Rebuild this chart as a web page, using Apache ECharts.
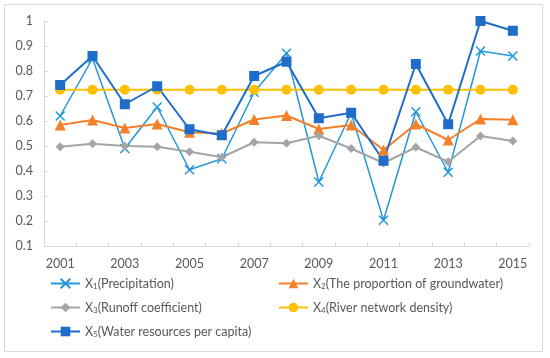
<!DOCTYPE html>
<html><head><meta charset="utf-8">
<script src="https://cdn.jsdelivr.net/npm/echarts@6/dist/echarts.min.js"></script>
<style>html,body{margin:0;padding:0;background:#fff}#c{width:550px;height:358px}</style>
</head><body><div id="c"></div>
<script>
const years = ['2001','2002','2003','2004','2005','2006','2007','2008','2009','2010','2011','2012','2013','2014','2015'];
const x1Precipitation = [0.62,0.85,0.49,0.656,0.405,0.449,0.715,0.871,0.356,0.632,0.203,0.637,0.395,0.88,0.86];
const x2Groundwater = [0.584,0.604,0.572,0.588,0.555,0.55,0.606,0.622,0.568,0.584,0.484,0.588,0.524,0.608,0.605];
const x3Runoff = [0.497,0.509,0.5,0.497,0.477,0.455,0.515,0.511,0.541,0.49,0.432,0.495,0.437,0.54,0.52];
const x4RiverDensity = [0.725,0.725,0.725,0.725,0.725,0.725,0.725,0.725,0.725,0.725,0.725,0.725,0.725,0.725,0.725];
const x5WaterPerCapita = [0.744,0.86,0.667,0.739,0.567,0.543,0.78,0.837,0.611,0.633,0.441,0.828,0.587,1.0,0.961];
const seriesNames = ['X1(Precipitation)','X2(The proportion of groundwater)','X3(Runoff coefficient)','X4(River network density)','X5(Water resources per capita)'];

const FONT = 'Lato';
const FS = 11.5;
const TXT = '#595959';
const chart = echarts.init(document.getElementById('c'), null, {renderer:'canvas'});
function legendFmt(name){
  const m = name.match(/^X(\d)(.*)$/);
  return 'X{s|' + m[1] + '}' + m[2];
}
function lg(name, left, top){
  return {
    data:[name], left:left, top:top, padding:0, itemWidth:29, itemHeight:12, itemGap:0,
    formatter: legendFmt,
    textStyle:{color:TXT, fontFamily:FONT, fontSize:12.5,
      rich:{s:{fontSize:8, color:TXT, fontFamily:FONT, padding:[5,0,0,0]}}}
  };
}
const crossPath = 'path://M0,0L10,10M10,0L0,10';
chart.setOption({
  animation:false,
  backgroundColor:'#fff',
  graphic:[{type:'rect', shape:{x:4.5,y:4.5,width:538,height:347}, style:{fill:'none', stroke:'#D9D9D9', lineWidth:1}, silent:true}],
  grid:{left:44, right:21, top:21, bottom:112},
  legend:[lg(seriesNames[0],50,277), lg(seriesNames[1],278,277), lg(seriesNames[2],50,301), lg(seriesNames[3],278,301), lg(seriesNames[4],50,325)],
  xAxis:{type:'category', data:years, boundaryGap:true,
    axisLine:{lineStyle:{color:'#D9D9D9'}},
    axisTick:{show:true, inside:true, length:4, interval:0, lineStyle:{color:'#D9D9D9'}},
    axisLabel:{interval:1, color:TXT, fontFamily:FONT, fontSize:FS+1, margin:11}},
  yAxis:{type:'value', min:0.1, max:1, interval:0.1,
    splitLine:{show:false},
    axisLine:{show:true, lineStyle:{color:'#D9D9D9'}},
    axisTick:{show:true, inside:true, length:4, lineStyle:{color:'#D9D9D9'}},
    axisLabel:{color:TXT, fontFamily:FONT, fontSize:FS+1, margin:11,
      formatter: v => String(Math.round(v*10)/10)}},
  series:[
    {name:seriesNames[0], type:'line', data:x1Precipitation, symbol:crossPath, symbolSize:9,
     lineStyle:{color:'#2498D8', width:1.5}, itemStyle:{color:'#2498D8', borderColor:'#2498D8', borderWidth:1.5}},
    {name:seriesNames[1], type:'line', data:x2Groundwater, symbol:'triangle', symbolSize:11,
     lineStyle:{color:'#F5802A', width:2}, itemStyle:{color:'#F5802A'}},
    {name:seriesNames[2], type:'line', data:x3Runoff, symbol:'diamond', symbolSize:9,
     lineStyle:{color:'#A5A5A5', width:2}, itemStyle:{color:'#A5A5A5'}},
    {name:seriesNames[3], type:'line', data:x4RiverDensity, symbol:'circle', symbolSize:10,
     lineStyle:{color:'#FFC000', width:2}, itemStyle:{color:'#FFC000'}},
    {name:seriesNames[4], type:'line', data:x5WaterPerCapita, symbol:'rect', symbolSize:10,
     lineStyle:{color:'#1F6DC8', width:2}, itemStyle:{color:'#1F6DC8'}}
  ]
});
</script></body></html>
